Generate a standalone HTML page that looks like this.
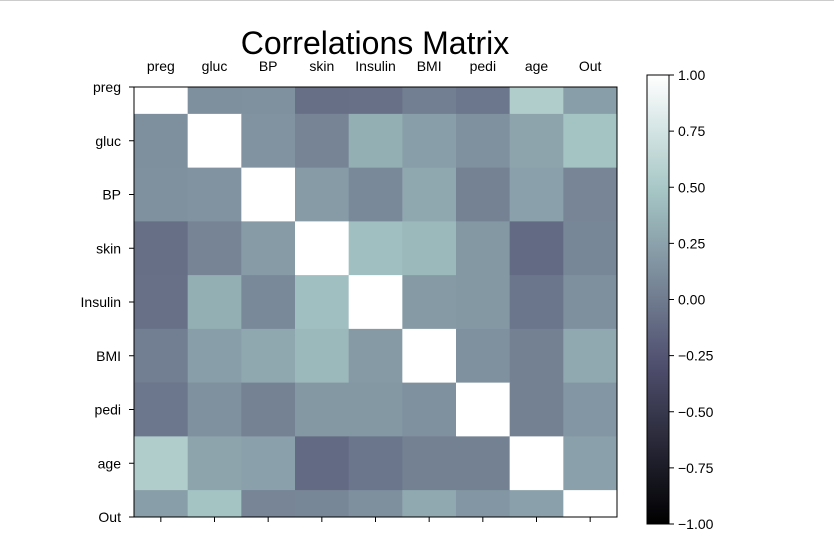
<!DOCTYPE html>
<html><head><meta charset="utf-8">
<style>
body{margin:0;background:#fff;}
svg{display:block;font-family:"Liberation Sans","DejaVu Sans",sans-serif;}
</style></head>
<body>
<svg id="chart" width="834" height="541">
<line x1="0" y1="0.5" x2="834" y2="0.5" stroke="#ccc"/>
<text x="375" y="54" font-size="32" text-anchor="middle">Correlations Matrix</text>
<defs><clipPath id="mclip"><rect x="134" y="87" width="483" height="430"/></clipPath></defs>
<g id="cells" clip-path="url(#mclip)"></g>
<g id="axes"></g>
<g id="cbar"></g>
</svg>
<script>
const labels = ["preg","gluc","BP","skin","Insulin","BMI","pedi","age","Out"];
const corr = [
[1,0.129,0.141,-0.082,-0.074,0.018,-0.034,0.544,0.222],
[0.129,1,0.153,0.057,0.331,0.221,0.137,0.264,0.467],
[0.141,0.153,1,0.207,0.089,0.282,0.041,0.240,0.065],
[-0.082,0.057,0.207,1,0.437,0.393,0.184,-0.114,0.075],
[-0.074,0.331,0.089,0.437,1,0.198,0.185,-0.042,0.131],
[0.018,0.221,0.282,0.393,0.198,1,0.141,0.036,0.293],
[-0.034,0.137,0.041,0.184,0.185,0.141,1,0.034,0.174],
[0.544,0.264,0.240,-0.114,-0.042,0.036,0.034,1,0.238],
[0.222,0.467,0.065,0.075,0.131,0.293,0.174,0.238,1]
];
const cbTicks = [1,0.75,0.5,0.25,0,-0.25,-0.5,-0.75,-1];
const cbTickLabels = ["1.00","0.75","0.50","0.25","0.00","\u22120.25","\u22120.50","\u22120.75","\u22121.00"];

const NS="http://www.w3.org/2000/svg";
function mk(tag,attrs,parent){const e=document.createElementNS(NS,tag);for(const k in attrs)e.setAttribute(k,attrs[k]);parent.appendChild(e);return e;}
function interp(pts,t){for(let i=1;i<pts.length;i++){if(t<=pts[i][0]){const a=pts[i-1],b=pts[i];return a[1]+(b[1]-a[1])*(t-a[0])/(b[0]-a[0]);}}return pts[pts.length-1][1];}
function bone(v){const t=Math.max(0,Math.min(1,(v+1)/2));
 const r=interp([[0,0],[0.746032,0.652778],[1,1]],t);
 const g=interp([[0,0],[0.365079,0.319444],[0.746032,0.782407],[1,1]],t);
 const b=interp([[0,0],[0.365079,0.444444],[1,1]],t);
 return `rgb(${Math.round(r*255)},${Math.round(g*255)},${Math.round(b*255)})`;}

const X0=134,X1=617,Y0=87,Y1=517,n=labels.length;
const cw=(X1-X0)/n,ch=(Y1-Y0)/(n-1);
const xCenter=i=>X0+i*cw+cw/2, yCenter=i=>Y0+i*ch;
const cells=document.getElementById('cells'),axes=document.getElementById('axes'),cbar=document.getElementById('cbar');
for(let r=0;r<n;r++)for(let c=0;c<n;c++){
 const el=mk('rect',{x:xCenter(c)-cw/2,y:yCenter(r)-ch/2,width:cw+0.5,height:ch+0.5,fill:bone(corr[r][c])},cells);
 
 
}
mk('rect',{x:X0,y:Y0,width:X1-X0,height:Y1-Y0,fill:'none',stroke:'#000','stroke-width':1},axes);
for(let i=0;i<n;i++){
 const cx=xCenter(i), cy=yCenter(i);
 mk('line',{x1:cx,y1:Y1,x2:cx,y2:Y1+5,stroke:'#000'},axes);
 mk('line',{x1:X0-5,y1:cy,x2:X0,y2:cy,stroke:'#000'},axes);
 const tx=mk('text',{x:cx,y:Y0-16,'font-size':14,'text-anchor':'middle'},axes);tx.textContent=labels[i];
 
 
 const ty=mk('text',{x:X0-13,y:cy+5,'font-size':14,'text-anchor':'end'},axes);ty.textContent=labels[i];
 
 
}
const CX=647,CW=22,CY0=75,CY1=524;
const cbY=v=>CY0+(1-v)/2*(CY1-CY0);
const defs=mk('defs',{},cbar);
const grad=mk('linearGradient',{id:'cg',x1:0,y1:1,x2:0,y2:0},defs);
for(let k=0;k<=20;k++){const v=-1+k*0.1;mk('stop',{offset:(k/20),'stop-color':bone(v)},grad);}
const cbRect=mk('rect',{x:CX,y:CY0,width:CW,height:CY1-CY0,fill:'url(#cg)',stroke:'#000','stroke-width':1},cbar);


cbTicks.forEach((v,i)=>{
 const y=cbY(v);
 mk('line',{x1:CX+CW,y1:y,x2:CX+CW+5,y2:y,stroke:'#000'},cbar);
 const t=mk('text',{x:CX+CW+9,y:y+5,'font-size':14},cbar);t.textContent=cbTickLabels[i];
 
 
});
</script>
</body></html>
